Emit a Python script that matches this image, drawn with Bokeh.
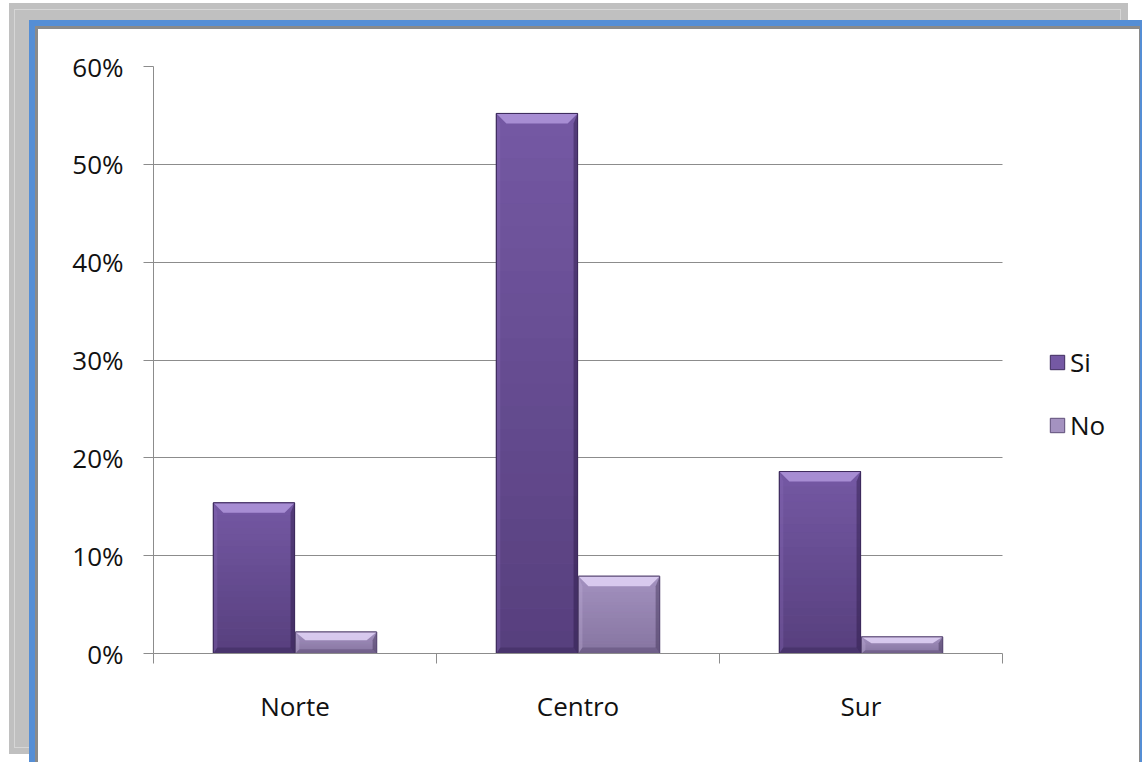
from bokeh.plotting import figure
from bokeh.models import (FixedTicker, NumeralTickFormatter, Legend,
                          LegendItem, ColumnDataSource, Range1d)
from bokeh.embed import file_html
from bokeh.resources import INLINE

# ---- data ----
regions = ["Norte", "Centro", "Sur"]
si = [0.154, 0.552, 0.186]
no = [0.022, 0.079, 0.017]
y_ticks = [0.0, 0.1, 0.2, 0.3, 0.4, 0.5, 0.6]
series = ["Si", "No"]

# ---- layout constants ----
W, H = 1101, 733
BL, BR, BT, BB = 115, 0, 37, 109
FW, FH = W - BL - BR, H - BT - BB
PLOT_W = 849                      # pixel width of the category area
NCAT = len(regions)
XEND = NCAT * FW / PLOT_W         # frame extends right to hold the legend
YMAX = 0.6
BAR_W = 0.287
OFF = 0.145
px_x = 1.0 * NCAT / PLOT_W
px_y = YMAX / FH
NBANDS = 24

FONT = "Open Sans"
TXT = "#111111"
GRID = "#8c8c8c"

p = figure(width=W, height=H, output_backend="svg", toolbar_location=None,
           x_range=Range1d(0, XEND), y_range=Range1d(0, YMAX),
           min_border_left=BL, min_border_right=BR, min_border_top=BT, min_border_bottom=BB,
           border_fill_color="white", background_fill_color="white",
           outline_line_color=None)
p.margin = (29, 0, 0, 38)

# decorative frame around the chart (gray line, blue border, gray panel behind)
p.styles = {"box-shadow": ("-1px -1px 0 2px #8a8a8a, "
                           "-3px -3px 0 6px #558ed5, "
                           "-21px -17px 0 2px #c0c0c0, "
                           "-21px -17px 0 3px #d6d6d6, "
                           "-20px -17px 0 9px #c0c0c0")}

# ---- bars ----
centers = [i + 0.5 for i in range(NCAT)]
x_si = [c - OFF for c in centers]
x_no = [c + OFF for c in centers]

def bars(xc, vals, fill, edge, top_hi, side_hi, dark, shade_max):
    src = ColumnDataSource(dict(left=[x - BAR_W / 2 for x in xc],
                                right=[x + BAR_W / 2 for x in xc],
                                top=vals, bottom=[0] * len(vals)))
    r = p.quad(left="left", right="right", top="top", bottom="bottom", source=src,
               fill_color=fill, line_color=edge, line_width=1)
    # vertical shading (lighter at the top, darker at the bottom)
    gl, gr, gb, gt, ga = [], [], [], [], []
    for x, v in zip(xc, vals):
        for k in range(NBANDS):
            gl.append(x - BAR_W / 2); gr.append(x + BAR_W / 2)
            gb.append(v * k / NBANDS); gt.append(v * (k + 1) / NBANDS)
            ga.append(shade_max * (1 - (k + 0.5) / NBANDS))
    p.quad(left=gl, right=gr, bottom=gb, top=gt, fill_color=dark,
           fill_alpha=ga, line_color=None)
    dx = 10 * px_x
    txs, tys, rxs, rys, bxs, bys, lxs, lys = [], [], [], [], [], [], [], []
    for x, v in zip(xc, vals):
        l, rr = x - BAR_W / 2, x + BAR_W / 2
        dy = min(10 * px_y, v * 0.38)
        sdx = 4 * px_x
        bh = min(6 * px_y, v * 0.2)
        txs.append([l, rr, rr - dx, l + dx]); tys.append([v, v, v - dy, v - dy])
        rxs.append([rr, rr, rr - sdx, rr - sdx]); rys.append([v, 0, bh, v - dy])
        lxs.append([l, l, l + sdx, l + sdx]); lys.append([v, 0, bh, v - dy])
        bxs.append([l, rr, rr - sdx, l + sdx]); bys.append([0, 0, bh, bh])
    p.patches(txs, tys, fill_color=top_hi, line_color=None, fill_alpha=0.85)
    p.patches(lxs, lys, fill_color=side_hi, line_color=None, fill_alpha=0.3)
    p.patches(rxs, rys, fill_color=dark, line_color=None, fill_alpha=0.45)
    p.patches(bxs, bys, fill_color=dark, line_color=None, fill_alpha=0.3)
    p.quad(left="left", right="right", top="top", bottom="bottom", source=src,
           fill_alpha=0, line_color=edge, line_width=1)
    return r

r_si = bars(x_si, si, "#7559a4", "#3e2b5e", "#b096dc", "#8a6cba", "#2a1944", 0.4)
r_no = bars(x_no, no, "#a492c0", "#5e4d78", "#e2d4f7", "#c3b2dc", "#3e3055", 0.3)

# ---- axes ----
xa = p.xaxis[0]
xa.bounds = (0, NCAT)
xa.ticker = FixedTicker(ticks=centers, minor_ticks=list(range(NCAT + 1)))
xa.major_label_overrides = {c: n for c, n in zip(centers, regions)}
xa.major_tick_out = 0
xa.major_tick_in = 0
xa.minor_tick_out = 10
xa.minor_tick_in = 0
xa.minor_tick_line_color = GRID
xa.axis_line_color = GRID
xa.major_label_standoff = 24
xa.major_label_text_font = FONT
xa.major_label_text_font_size = "26px"
xa.major_label_text_color = TXT

ya = p.yaxis[0]
ya.ticker = FixedTicker(ticks=y_ticks)
ya.formatter = NumeralTickFormatter(format="0%")
ya.major_tick_out = 10
ya.major_tick_in = 0
ya.minor_tick_line_color = None
ya.major_tick_line_color = GRID
ya.axis_line_color = GRID
ya.major_label_standoff = 20
ya.major_label_text_font = FONT
ya.major_label_text_font_size = "26px"
ya.major_label_text_color = TXT

p.xgrid.grid_line_color = None
yg = p.ygrid[0]
yg.ticker = FixedTicker(ticks=y_ticks)
yg.grid_line_color = GRID
yg.grid_line_width = 1
if "cross_bounds" in yg.properties():
    yg.cross_bounds = (0, NCAT)

# ---- legend ----
legend = Legend(items=[LegendItem(label=series[0], renderers=[r_si]),
                       LegendItem(label=series[1], renderers=[r_no])],
                location=(895, 210), orientation="vertical",
                glyph_width=18, glyph_height=18, spacing=27, padding=0, margin=0,
                label_standoff=4, border_line_color=None, background_fill_alpha=0,
                label_text_font=FONT, label_text_font_size="26px", label_text_color=TXT)
p.add_layout(legend, "center")

open("out.html", "w").write(file_html(p, INLINE))
